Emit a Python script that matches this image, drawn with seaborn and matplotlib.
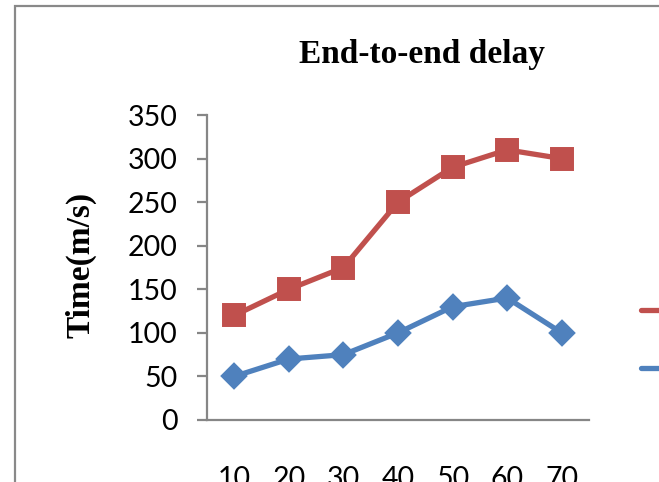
import matplotlib
matplotlib.use("Agg")
import matplotlib.pyplot as plt
import seaborn as sns
import pandas as pd
from matplotlib.patches import Rectangle
from matplotlib.lines import Line2D

# values
nodes = ["10", "20", "30", "40", "50", "60", "70"]
series_a = [120, 150, 175, 250, 290, 310, 300]
series_b = [50, 70, 75, 100, 130, 140, 100]
series_names = ["Existing", "Proposed"]

df = pd.DataFrame({
    "nodes": nodes * 2,
    "delay": series_a + series_b,
    "series": [series_names[0]] * len(nodes) + [series_names[1]] * len(nodes),
})

sns.set_style("white")
plt.rcParams["font.family"] = ["Lato", "DejaVu Sans"]
plt.rcParams["text.color"] = "black"
plt.rcParams["xtick.labelcolor"] = "black"
plt.rcParams["ytick.labelcolor"] = "black"

W, H = 659, 482
fig = plt.figure(figsize=(W / 100, H / 100), dpi=100)
ax = fig.add_axes([207 / W, 62 / H, (589 - 207) / W, (420 - 115) / H])

sns.pointplot(data=df, x="nodes", y="delay", hue="series",
              palette=["#C0504D", "#4F81BD"], markers=["s", "D"],
              linestyles=["-", "-"], errorbar=None, ax=ax,
              linewidth=3.8, legend=False)

# squares and diamonds look about the same size in the reference
for line, ms in zip(ax.get_lines(), [15, 11]):
    line.set_markersize(ms)

ax.set_ylim(0, 350)
ax.set_yticks(range(0, 351, 50))
ax.set_xlim(-0.5, 6.5)
ax.set_xlabel("")
ax.set_ylabel("")

for side in ["top", "right"]:
    ax.spines[side].set_visible(False)
for side in ["left", "bottom"]:
    ax.spines[side].set_color("#868686")
    ax.spines[side].set_linewidth(1.6)

ax.tick_params(axis="y", length=7, width=1.6, color="#868686", pad=14,
               labelsize=20.5, left=True, labelcolor="black")
ax.tick_params(axis="x", length=0, pad=33, labelsize=20.5, labelcolor="black")

fig.text(422 / W, 1 - 55 / H, "End-to-end delay", ha="center", va="center",
         fontsize=24, fontweight="bold", family="Liberation Serif")
fig.text(81 / W, 1 - 265 / H, "Time(m/s)", ha="center", va="center",
         rotation=90, fontsize=24, fontweight="bold", family="Liberation Serif")

# legend sits mostly outside the visible area, as in the reference
handles = [
    Line2D([], [], color="#C0504D", lw=3.8, marker="s", markersize=15),
    Line2D([], [], color="#4F81BD", lw=3.8, marker="D", markersize=11),
]
fig.legend(handles, series_names, loc="center left",
           bbox_to_anchor=(641 / W, 1 - 341 / H), frameon=False,
           fontsize=20.5, borderaxespad=0, borderpad=0, handlelength=2.5,
           labelspacing=1.1)

# outer chart border (cut off on the right and bottom)
fig.add_artist(Rectangle((15 / W, -0.1), 1.2, 1 - 6 / H + 0.1,
                         transform=fig.transFigure, fill=False,
                         edgecolor="#898989", linewidth=1.6))

fig.savefig("out.png", dpi=100)
